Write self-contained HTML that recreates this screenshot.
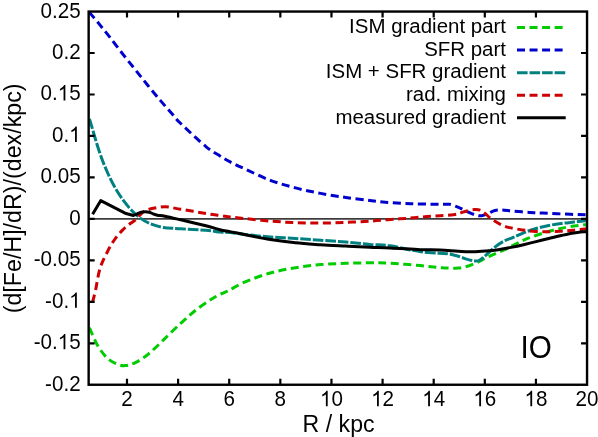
<!DOCTYPE html>
<html><head><meta charset="utf-8"><title>plot</title>
<style>
html,body{margin:0;padding:0;background:#fff;}
body{width:598px;height:437px;overflow:hidden;}
svg{display:block;font-family:"Liberation Sans",sans-serif;font-size:21px;fill:#000;}
.c{fill:none;stroke-width:3;stroke-linecap:butt;stroke-linejoin:round;}
.g{stroke:#00cc00;stroke-dasharray:8 4.54;}
.b{stroke:#0000cc;stroke-dasharray:8 4.54;}
.r{stroke:#cc0000;stroke-dasharray:8 4.54;}
.t{stroke:#008080;stroke-dasharray:10.6 1.94;}
.k{stroke:#000;stroke-width:3;}
.tk path{stroke:#000;stroke-width:2.2;fill:none;}
</style></head><body>
<svg width="598" height="437" viewBox="0 0 598 437">
<rect x="0" y="0" width="598" height="437" fill="#fff"/>
<path d="M88.65 218.88H587.05" stroke="#3c3c3c" stroke-width="1.6" fill="none"/>
<path class="c g" d="M89.5 327.8C90.8 330.7 94.6 340.3 97.6 345.4C100.6 350.5 104.3 355.4 107.7 358.5C111.1 361.6 114.9 363.1 117.8 364.3C120.7 365.5 122.4 365.9 125.3 365.6C128.2 365.3 131.6 364.5 135.4 362.6C139.2 360.7 143.4 358.0 148.0 354.3C152.6 350.6 157.6 345.6 163.0 340.4C168.4 335.2 175.2 328.3 180.7 323.3C186.2 318.3 190.8 314.1 195.8 310.2C200.8 306.2 206.9 302.2 210.9 299.6C214.9 297.0 217.1 295.9 220.0 294.4C222.9 292.9 224.3 292.7 228.5 290.6C232.7 288.5 238.2 284.7 245.2 281.8C252.2 278.9 261.9 275.4 270.3 273.0C278.7 270.6 287.1 269.1 295.5 267.7C303.9 266.3 312.3 265.3 320.7 264.6C329.1 263.9 337.7 263.6 345.9 263.3C354.1 263.0 362.4 262.8 369.8 262.8C377.2 262.8 381.7 262.7 390.1 263.2C398.5 263.7 411.6 264.9 420.2 265.6C428.8 266.4 436.8 267.3 441.8 267.7C446.8 268.1 447.2 267.9 450.0 268.0C452.8 268.1 455.4 268.4 458.3 268.1C461.2 267.8 464.3 267.2 467.4 266.3C470.4 265.4 473.6 264.1 476.6 262.7C479.7 261.3 482.6 259.6 485.7 258.1C488.8 256.6 491.8 255.3 494.9 253.9C497.9 252.5 500.9 251.3 504.0 249.9C507.1 248.5 510.2 246.8 513.2 245.3C516.2 243.8 519.6 242.0 522.3 240.7C525.0 239.4 526.2 238.9 529.6 237.7C533.0 236.4 538.3 234.6 542.8 233.2C547.3 231.8 552.0 230.4 556.6 229.3C561.2 228.2 565.4 227.4 570.5 226.6C575.6 225.8 584.2 224.8 587.0 224.5"/>
<path class="c b" d="M89.2 12.1C91.0 14.3 96.6 20.8 100.1 25.1C103.6 29.4 106.4 32.9 110.2 37.7C114.0 42.5 118.6 48.8 122.8 54.1C127.0 59.4 131.1 64.5 135.3 69.7C139.5 74.9 143.7 80.3 147.9 85.5C152.1 90.7 156.5 95.9 160.5 100.6C164.5 105.3 168.4 109.8 171.8 113.6C175.2 117.4 175.0 118.0 180.7 123.5C186.4 129.0 199.3 141.2 205.9 146.6C212.5 152.0 216.0 153.4 220.0 155.9C224.0 158.4 225.6 159.5 229.8 161.7C234.0 163.9 238.4 165.9 245.2 169.0C251.9 172.1 261.9 177.2 270.3 180.3C278.7 183.5 287.1 185.7 295.5 187.9C303.9 190.1 312.3 191.8 320.7 193.4C329.1 195.0 337.7 196.3 345.9 197.5C354.1 198.7 363.2 199.7 369.8 200.5C376.4 201.3 378.4 201.7 385.2 202.2C391.9 202.7 401.9 203.4 410.3 203.7C418.7 204.0 429.2 204.1 435.5 204.2C441.8 204.3 445.3 204.2 448.0 204.3C450.7 204.4 450.2 204.3 451.5 204.6C452.8 204.9 454.2 205.6 455.6 206.2C457.1 206.8 458.2 207.2 460.2 208.1C462.2 209.0 465.0 210.6 467.4 211.7C469.8 212.8 472.5 214.1 474.8 214.8C477.1 215.5 479.1 216.0 481.2 215.8C483.3 215.6 485.3 214.7 487.6 213.8C489.9 212.9 492.5 211.1 494.9 210.5C497.3 209.9 499.1 209.9 502.2 210.0C505.2 210.1 508.6 210.7 513.2 211.1C517.8 211.5 524.7 212.1 529.6 212.4C534.5 212.7 536.0 212.8 542.8 213.1C549.6 213.4 563.1 214.0 570.5 214.3C577.9 214.6 584.2 214.8 587.0 214.9"/>
<path class="c t" d="M89.5 118.9C91.1 124.1 95.9 141.3 98.9 150.3C101.9 159.3 104.6 166.0 107.7 173.0C110.8 180.0 114.2 186.4 117.8 192.2C121.4 198.0 125.6 203.5 129.1 207.6C132.5 211.7 135.2 214.2 138.5 216.8C141.8 219.4 145.1 221.4 149.2 223.2C153.3 225.0 157.8 226.5 163.0 227.4C168.2 228.3 173.5 228.3 180.7 228.8C187.8 229.3 199.3 229.8 205.9 230.3C212.5 230.8 216.0 231.6 220.0 232.0C224.0 232.4 225.6 232.2 229.8 232.6C234.0 233.0 238.4 233.8 245.2 234.5C251.9 235.2 261.9 236.3 270.3 237.0C278.7 237.7 287.1 237.9 295.5 238.5C303.9 239.1 312.3 239.7 320.7 240.3C329.1 240.9 337.7 241.3 345.9 242.0C354.1 242.7 362.4 243.8 369.8 244.4C377.2 245.0 383.0 244.8 390.1 245.8C397.2 246.8 406.4 249.2 412.7 250.3C419.0 251.4 423.1 252.1 427.7 252.6C432.2 253.1 436.4 253.1 440.0 253.3C443.6 253.5 446.1 253.4 449.1 253.9C452.2 254.4 455.2 255.4 458.3 256.3C461.4 257.2 464.6 258.6 467.4 259.4C470.1 260.2 472.8 260.8 474.8 260.9C476.8 261.0 477.5 261.2 479.3 260.3C481.1 259.4 483.1 257.6 485.7 255.4C488.3 253.2 491.8 249.5 494.9 247.1C497.9 244.7 500.9 242.7 504.0 241.1C507.1 239.5 510.0 238.8 513.2 237.4C516.5 236.0 519.7 234.4 523.5 232.9C527.3 231.4 531.9 229.7 536.1 228.5C540.3 227.3 544.5 226.3 548.7 225.5C552.9 224.7 557.1 224.1 561.3 223.5C565.5 222.9 569.5 222.5 573.8 222.0C578.1 221.5 584.8 220.8 587.0 220.6"/>
<path class="c r" d="M92.6 302.1C93.1 300.1 94.3 295.7 95.6 290.0C96.8 284.3 98.1 274.6 100.1 268.1C102.1 261.6 105.2 256.1 107.7 251.2C110.2 246.3 112.5 242.5 115.0 239.0C117.5 235.5 120.2 232.5 122.5 230.1C124.8 227.7 126.9 226.2 129.0 224.5C131.1 222.8 133.4 221.6 135.2 220.1C136.9 218.6 138.1 216.9 139.5 215.5C140.9 214.1 142.3 212.4 143.9 211.4C145.5 210.4 147.2 209.9 149.0 209.3C150.8 208.8 151.8 208.5 154.6 208.1C157.4 207.7 161.2 206.6 165.6 206.8C169.9 207.0 174.0 208.1 180.7 209.2C187.4 210.3 199.3 212.4 205.9 213.5C212.5 214.6 216.0 215.0 220.0 215.6C224.0 216.2 225.6 216.5 229.8 217.0C234.0 217.5 238.4 217.9 245.2 218.6C251.9 219.3 261.9 220.4 270.3 221.1C278.7 221.8 287.1 222.3 295.5 222.6C303.9 222.9 312.3 223.1 320.7 223.1C329.1 223.1 337.7 222.7 345.9 222.4C354.1 222.1 363.2 221.5 369.8 221.1C376.4 220.7 380.2 220.3 385.2 219.9C390.2 219.5 395.3 219.2 400.0 218.8C404.7 218.5 408.9 218.2 413.4 217.8C417.9 217.4 422.4 216.9 426.8 216.6C431.2 216.3 435.7 216.1 440.1 215.8C444.6 215.5 450.1 215.2 453.5 214.7C456.9 214.2 458.0 213.6 460.2 213.0C462.4 212.4 464.4 211.6 466.9 211.0C469.3 210.4 472.7 209.7 474.9 209.6C477.1 209.5 478.4 209.6 480.0 210.2C481.6 210.8 482.9 211.9 484.8 213.3C486.7 214.7 488.6 217.0 491.2 218.8C493.8 220.6 497.3 222.8 500.4 224.3C503.4 225.8 505.9 226.7 509.5 227.6C513.1 228.5 517.9 229.2 522.3 229.9C526.7 230.6 531.7 231.2 536.1 231.5C540.5 231.8 544.5 231.8 548.7 231.7C552.9 231.6 557.1 231.4 561.3 231.2C565.5 230.9 569.5 230.6 573.8 230.2C578.1 229.8 584.8 228.9 587.0 228.7"/>
<path class="c k" d="M92.6 214.2L100.8 200.6L125.1 213.2L133.4 215.5L133.4 215.5C134.0 215.2 135.7 214.6 137.0 214.0C138.3 213.4 139.8 212.5 141.2 212.1C142.6 211.7 143.8 211.7 145.2 211.7C146.6 211.7 148.0 211.8 149.4 212.2C150.8 212.6 152.2 213.5 153.5 214.0C154.8 214.5 155.5 214.8 157.4 215.2C159.3 215.6 161.1 215.4 165.0 216.2C168.9 217.0 173.9 218.2 180.7 219.8C187.5 221.4 199.3 224.2 205.9 225.8C212.5 227.5 216.0 228.7 220.0 229.7C224.0 230.7 225.6 230.8 229.8 231.6C234.0 232.4 238.4 233.4 245.2 234.7C251.9 236.0 261.9 238.2 270.3 239.5C278.7 240.8 287.1 241.9 295.5 242.8C303.9 243.7 312.3 244.2 320.7 244.8C329.1 245.4 337.7 245.7 345.9 246.1C354.1 246.5 362.4 246.9 369.8 247.2C377.2 247.5 381.7 247.5 390.1 247.9C398.5 248.3 411.9 249.3 420.2 249.7C428.5 250.0 433.6 249.7 440.0 250.0C446.4 250.3 453.1 251.0 458.3 251.3C463.5 251.6 466.5 251.9 471.1 251.8C475.7 251.7 481.2 251.2 485.7 250.9C490.2 250.6 494.1 250.3 498.3 249.7C502.5 249.1 506.7 248.2 510.9 247.4C515.1 246.6 519.3 245.7 523.5 244.7C527.7 243.7 531.9 242.6 536.1 241.6C540.3 240.6 544.5 239.5 548.7 238.5C552.9 237.5 557.1 236.4 561.3 235.5C565.5 234.6 569.5 233.7 573.8 233.0C578.1 232.3 584.8 231.7 587.0 231.4"/>
<g class="tk"><path d="M126.99 384.75v-6M126.99 11.55v6"/><path d="M178.11 384.75v-6M178.11 11.55v6"/><path d="M229.22 384.75v-6M229.22 11.55v6"/><path d="M280.34 384.75v-6M280.34 11.55v6"/><path d="M331.46 384.75v-6M331.46 11.55v6"/><path d="M382.58 384.75v-6M382.58 11.55v6"/><path d="M433.70 384.75v-6M433.70 11.55v6"/><path d="M484.81 384.75v-6M484.81 11.55v6"/><path d="M535.93 384.75v-6M535.93 11.55v6"/><path d="M88.65 53.02h6M587.05 53.02h-6"/><path d="M88.65 94.48h6M587.05 94.48h-6"/><path d="M88.65 135.95h6M587.05 135.95h-6"/><path d="M88.65 177.42h6M587.05 177.42h-6"/><path d="M88.65 218.88h6M587.05 218.88h-6"/><path d="M88.65 260.35h6M587.05 260.35h-6"/><path d="M88.65 301.82h6M587.05 301.82h-6"/><path d="M88.65 343.28h6M587.05 343.28h-6"/></g>
<rect x="88.65" y="11.55" width="498.4" height="373.2" fill="none" stroke="#000" stroke-width="2.4"/>
<g id="txt" style="opacity:0.999">
<g><g transform="translate(126.99 406.20) scale(0.958 1)"><text x="-5.98" font-size="21.50">2</text></g><g transform="translate(178.11 406.20) scale(0.958 1)"><text x="-5.98" font-size="21.50">4</text></g><g transform="translate(229.22 406.20) scale(0.958 1)"><text x="-5.98" font-size="21.50">6</text></g><g transform="translate(280.34 406.20) scale(0.958 1)"><text x="-5.98" font-size="21.50">8</text></g><g transform="translate(331.46 406.20) scale(0.958 1)"><path transform="translate(-11.95 0) scale(0.01050 -0.01050)" d="M763 0H583V1147Q518 1085 412.5 1023T223 930V1104Q373 1174.5 485.5 1275T645 1466H763Z"/><text x="0.00" font-size="21.50">0</text></g><g transform="translate(382.58 406.20) scale(0.958 1)"><path transform="translate(-11.95 0) scale(0.01050 -0.01050)" d="M763 0H583V1147Q518 1085 412.5 1023T223 930V1104Q373 1174.5 485.5 1275T645 1466H763Z"/><text x="0.00" font-size="21.50">2</text></g><g transform="translate(433.70 406.20) scale(0.958 1)"><path transform="translate(-11.95 0) scale(0.01050 -0.01050)" d="M763 0H583V1147Q518 1085 412.5 1023T223 930V1104Q373 1174.5 485.5 1275T645 1466H763Z"/><text x="0.00" font-size="21.50">4</text></g><g transform="translate(484.81 406.20) scale(0.958 1)"><path transform="translate(-11.95 0) scale(0.01050 -0.01050)" d="M763 0H583V1147Q518 1085 412.5 1023T223 930V1104Q373 1174.5 485.5 1275T645 1466H763Z"/><text x="0.00" font-size="21.50">6</text></g><g transform="translate(535.93 406.20) scale(0.958 1)"><path transform="translate(-11.95 0) scale(0.01050 -0.01050)" d="M763 0H583V1147Q518 1085 412.5 1023T223 930V1104Q373 1174.5 485.5 1275T645 1466H763Z"/><text x="0.00" font-size="21.50">8</text></g><g transform="translate(587.05 406.20) scale(0.958 1)"><text x="-11.95" font-size="21.50">20</text></g></g>
<g><g transform="translate(80.60 17.55) scale(0.958 1)"><text x="-41.84" font-size="21.50">0.25</text></g><g transform="translate(80.60 59.02) scale(0.958 1)"><text x="-29.89" font-size="21.50">0.2</text></g><g transform="translate(80.60 100.48) scale(0.958 1)"><text x="-41.84" font-size="21.50">0.</text><path transform="translate(-23.91 0) scale(0.01050 -0.01050)" d="M763 0H583V1147Q518 1085 412.5 1023T223 930V1104Q373 1174.5 485.5 1275T645 1466H763Z"/><text x="-11.95" font-size="21.50">5</text></g><g transform="translate(80.60 141.95) scale(0.958 1)"><text x="-29.89" font-size="21.50">0.</text><path transform="translate(-11.95 0) scale(0.01050 -0.01050)" d="M763 0H583V1147Q518 1085 412.5 1023T223 930V1104Q373 1174.5 485.5 1275T645 1466H763Z"/></g><g transform="translate(80.60 183.42) scale(0.958 1)"><text x="-41.84" font-size="21.50">0.05</text></g><g transform="translate(80.60 224.88) scale(0.958 1)"><text x="-11.95" font-size="21.50">0</text></g><g transform="translate(80.60 266.35) scale(0.958 1)"><text x="-49.00" font-size="21.50">-0.05</text></g><g transform="translate(80.60 307.82) scale(0.958 1)"><text x="-37.04" font-size="21.50">-0.</text><path transform="translate(-11.95 0) scale(0.01050 -0.01050)" d="M763 0H583V1147Q518 1085 412.5 1023T223 930V1104Q373 1174.5 485.5 1275T645 1466H763Z"/></g><g transform="translate(80.60 349.28) scale(0.958 1)"><text x="-49.00" font-size="21.50">-0.</text><path transform="translate(-23.91 0) scale(0.01050 -0.01050)" d="M763 0H583V1147Q518 1085 412.5 1023T223 930V1104Q373 1174.5 485.5 1275T645 1466H763Z"/><text x="-11.95" font-size="21.50">5</text></g><g transform="translate(80.60 390.75) scale(0.958 1)"><text x="-37.04" font-size="21.50">-0.2</text></g></g>
<g><text transform="translate(506.00 33.30) scale(0.975 1)" text-anchor="end" font-size="21.00">ISM gradient part</text><path class="c g" d="M517 27.6H565.7"/><text transform="translate(506.00 55.85) scale(0.975 1)" text-anchor="end" font-size="21.00">SFR part</text><path class="c b" d="M517 50.1H565.7"/><text transform="translate(506.00 78.40) scale(0.975 1)" text-anchor="end" font-size="21.00">ISM + SFR gradient</text><path class="c t" d="M517 72.7H565.7"/><text transform="translate(506.00 100.95) scale(0.975 1)" text-anchor="end" font-size="21.00">rad. mixing</text><path class="c r" d="M517 95.2H565.7"/><text transform="translate(506.00 123.50) scale(0.975 1)" text-anchor="end" font-size="21.00">measured gradient</text><path class="c k" d="M517 117.7H565.7"/></g>
<text transform="translate(338.60 432.00) scale(0.976 1)" text-anchor="middle" font-size="23.70">R / kpc</text>
<text transform="translate(21.4 198.4) rotate(-90) scale(0.977 1)" text-anchor="middle" font-size="23.8">(d[Fe/H]/dR)/(dex/kpc)</text>
<text transform="translate(551.70 358.20) scale(0.955 1)" text-anchor="end" font-size="31.00">IO</text>
</g>
</svg>
</body></html>
